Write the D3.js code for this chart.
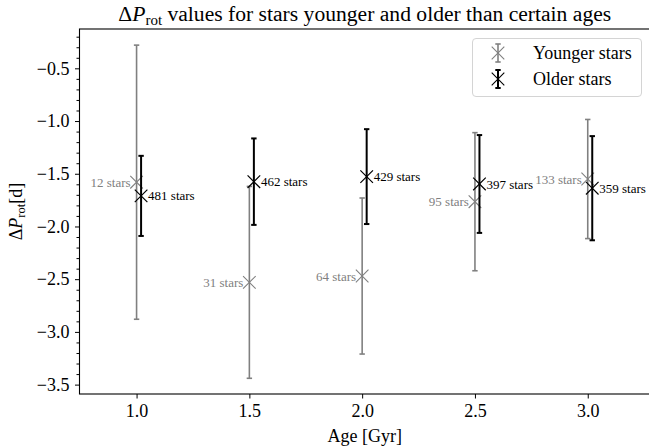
<!DOCTYPE html>
<html>
<head>
<meta charset="utf-8">
<script src="https://cdn.jsdelivr.net/npm/d3@7"></script>
<style>
  html, body { margin: 0; padding: 0; background: #fff; }
  svg { display: block; }
  svg text { font-family: "Liberation Serif", "Times New Roman", Times, serif; }
</style>
</head>
<body>
<svg id="chart" width="649" height="447"></svg>
<script>
// Age thresholds (Gyr)
const ages = [1.0, 1.5, 2.0, 2.5, 3.0];

// Younger-than-threshold sample
const youngerMean = [-1.58, -2.53, -2.47, -1.765, -1.55];
const youngerErr  = [1.30, 0.91, 0.74, 0.655, 0.565];
const youngerN    = [12, 31, 64, 95, 133];

// Older-than-threshold sample (plotted slightly offset in age)
const olderOffset = 0.02;
const olderMean = [-1.71, -1.575, -1.527, -1.597, -1.637];
const olderErr  = [0.38, 0.41, 0.45, 0.464, 0.494];
const olderN    = [481, 462, 429, 397, 359];

const xTicks = [1.0, 1.5, 2.0, 2.5, 3.0];
const yTicks = [-3.5, -3.0, -2.5, -2.0, -1.5, -1.0, -0.5];

const FONT = "'Liberation Serif', 'Times New Roman', Times, serif";

const svg = d3.select("#chart");
const plotL = 79.5, plotR = 650, plotT = 29, plotB = 394;

const x = d3.scaleLinear().domain([0.747, 3.276]).range([plotL, plotR]);
const y = d3.scaleLinear().domain([-3.589, -0.127]).range([plotB, plotT]);

const fmt = d3.format(".1f");

// Axes frame
svg.append("rect")
  .attr("x", plotL).attr("y", plotT)
  .attr("width", plotR - plotL).attr("height", plotB - plotT)
  .attr("fill", "none").attr("stroke", "#000").attr("stroke-width", 1.1);

// Y axis with minor ticks
svg.append("g").attr("transform", `translate(${plotL},0)`)
  .call(d3.axisLeft(y).tickValues(yTicks).tickFormat(fmt).tickSize(4.5).tickPadding(5.5));
const yMinor = d3.range(-35, -1).map(v => v / 10).filter(v => !yTicks.some(t => Math.abs(t - v) < 1e-9));
svg.append("g").attr("transform", `translate(${plotL},0)`)
  .call(d3.axisLeft(y).tickValues(yMinor).tickFormat("").tickSize(3));

// X axis
svg.append("g").attr("transform", `translate(0,${plotB})`)
  .call(d3.axisBottom(x).tickValues(xTicks).tickFormat(fmt).tickSize(4.5).tickPadding(5.5));

svg.selectAll(".domain").remove();
svg.selectAll(".tick line").attr("stroke", "#000").attr("stroke-width", 1);
svg.selectAll("g").attr("font-family", FONT);
svg.selectAll(".tick text")
  .attr("fill", "#000")
  .attr("font-family", FONT)
  .attr("font-size", 18);

// Error bars + markers
function drawSeries(xs, means, errs, color, lw, capW) {
  const g = svg.append("g");
  xs.forEach((xv, i) => {
    const px = x(xv);
    const y0 = y(means[i] - errs[i]), y1 = y(means[i] + errs[i]);
    g.append("line").attr("x1", px).attr("x2", px).attr("y1", y0).attr("y2", y1)
      .attr("stroke", color).attr("stroke-width", lw);
    [y0, y1].forEach(yy => g.append("line")
      .attr("x1", px - capW).attr("x2", px + capW).attr("y1", yy).attr("y2", yy)
      .attr("stroke", color).attr("stroke-width", lw));
  });
  return g;
}

function drawX(g, px, py, color, s, lw) {
  g.append("path")
    .attr("d", `M${px - s},${py - s}L${px + s},${py + s}M${px - s},${py + s}L${px + s},${py - s}`)
    .attr("stroke", color).attr("stroke-width", lw).attr("fill", "none");
}

const gray = "#808080";
const olderX = ages.map(a => a + olderOffset);

const gy = drawSeries(ages, youngerMean, youngerErr, gray, 1.6, 2.7);
ages.forEach((a, i) => drawX(gy, x(a), y(youngerMean[i]), gray, 6.3, 1.1));

const go = drawSeries(olderX, olderMean, olderErr, "#000", 2.0, 2.7);
olderX.forEach((a, i) => drawX(go, x(a), y(olderMean[i]), "#000", 6.3, 1.2));

// Sample size annotations
svg.append("g").selectAll("text").data(ages).join("text")
  .attr("x", (d) => x(d) - 6)
  .attr("y", (d, i) => y(youngerMean[i]))
  .attr("dy", "0.35em")
  .attr("text-anchor", "end")
  .attr("fill", gray)
  .attr("font-family", FONT)
  .attr("font-size", 13)
  .text((d, i) => `${youngerN[i]} stars`);

svg.append("g").selectAll("text").data(olderX).join("text")
  .attr("x", (d) => x(d) + 7)
  .attr("y", (d, i) => y(olderMean[i]))
  .attr("dy", "0.35em")
  .attr("text-anchor", "start")
  .attr("fill", "#000")
  .attr("font-family", FONT)
  .attr("font-size", 13)
  .text((d, i) => `${olderN[i]} stars`);

// Legend
const lg = svg.append("g");
lg.append("rect").attr("x", 472.5).attr("y", 38.5).attr("width", 169).attr("height", 58)
  .attr("rx", 3.5).attr("fill", "#fff").attr("fill-opacity", 0.8)
  .attr("stroke", "#d4d4d4").attr("stroke-width", 1);
const legendItems = [
  { label: "Younger stars", color: gray, lw: 1.6 },
  { label: "Older stars", color: "#000", lw: 2.0 }
];
legendItems.forEach((it, i) => {
  const cy = 53 + i * 26, cx = 498;
  lg.append("line").attr("x1", cx).attr("x2", cx).attr("y1", cy - 9).attr("y2", cy + 9)
    .attr("stroke", it.color).attr("stroke-width", it.lw);
  [cy - 9, cy + 9].forEach(yy => lg.append("line")
    .attr("x1", cx - 2.7).attr("x2", cx + 2.7).attr("y1", yy).attr("y2", yy)
    .attr("stroke", it.color).attr("stroke-width", it.lw));
  drawX(lg, cx, cy, it.color, 6.3, 1.1);
  lg.append("text").attr("x", 533).attr("y", cy).attr("dy", "0.35em")
    .attr("fill", "#000").attr("font-family", FONT).attr("font-size", 18).text(it.label);
});

// Title
const title = svg.append("text")
  .attr("x", (plotL + plotR) / 2).attr("y", 21)
  .attr("text-anchor", "middle").attr("fill", "#000")
  .attr("font-family", FONT).attr("font-size", 21.6);
title.append("tspan").text("Δ");
title.append("tspan").attr("font-style", "italic").text("P");
title.append("tspan").attr("baseline-shift", "-25%").attr("font-size", 15).text("rot");
title.append("tspan").text(" values for stars younger and older than certain ages");

// Axis labels
svg.append("text")
  .attr("x", (plotL + plotR) / 2).attr("y", 442)
  .attr("text-anchor", "middle").attr("fill", "#000")
  .attr("font-family", FONT).attr("font-size", 18).text("Age [Gyr]");

const yl = svg.append("text")
  .attr("transform", `translate(22,${(plotT + plotB) / 2}) rotate(-90)`)
  .attr("text-anchor", "middle").attr("fill", "#000")
  .attr("font-family", FONT).attr("font-size", 18);
yl.append("tspan").text("Δ");
yl.append("tspan").attr("font-style", "italic").text("P");
yl.append("tspan").attr("baseline-shift", "-25%").attr("font-size", 12.5).text("rot");
yl.append("tspan").attr("baseline-shift", "0").text("[d]");
</script>
</body>
</html>
